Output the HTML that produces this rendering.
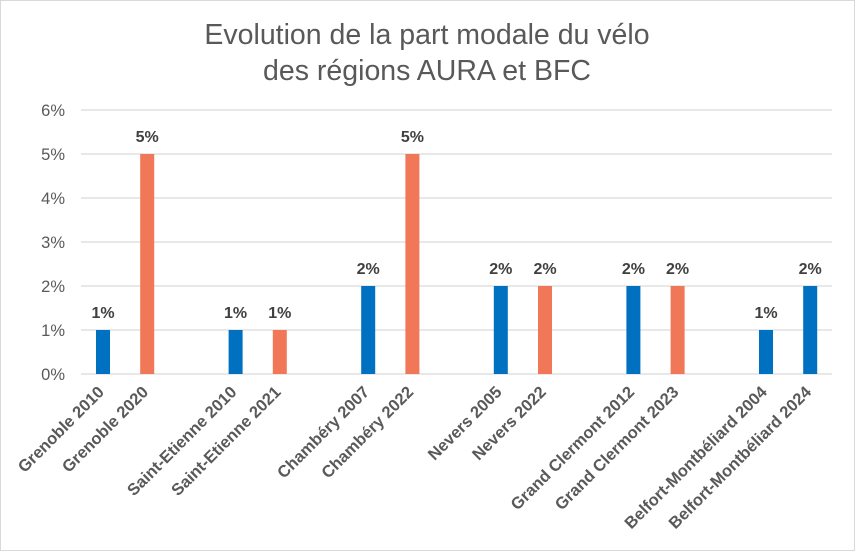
<!DOCTYPE html>
<html><head><meta charset="utf-8"><style>
body{margin:0;background:#fff}
svg{display:block;font-family:"Liberation Sans",sans-serif}
</style></head><body>
<svg width="855" height="551" viewBox="0 0 855 551">
<rect x="0.5" y="0.5" width="854" height="550" fill="#fff" stroke="#d9d9d9"/>
<text x="427" y="44" text-anchor="middle" font-size="28.5" fill="#595959">Evolution de la part modale du vélo</text>
<text x="427" y="80" text-anchor="middle" font-size="28.5" fill="#595959">des régions AURA et BFC</text>
<g stroke="#d9d9d9" stroke-width="1.3">
<line x1="81" x2="832" y1="110" y2="110"/><line x1="81" x2="832" y1="154" y2="154"/>
<line x1="81" x2="832" y1="198" y2="198"/><line x1="81" x2="832" y1="242" y2="242"/>
<line x1="81" x2="832" y1="286" y2="286"/><line x1="81" x2="832" y1="330" y2="330"/>
<line x1="81" x2="832" y1="374" y2="374"/>
</g>
<g font-size="16.5" fill="#595959" text-anchor="end">
<text x="65" y="116">6%</text><text x="65" y="160">5%</text><text x="65" y="204">4%</text>
<text x="65" y="248">3%</text><text x="65" y="292">2%</text><text x="65" y="336">1%</text><text x="65" y="380">0%</text>
</g>
<g id="bars"></g>
<g id="labels" font-size="16" font-weight="bold" fill="#404040" text-anchor="middle"></g>
<g id="cats" font-size="16.5" font-weight="bold" fill="#595959" text-anchor="end"></g>
</svg>
<script>
var d=[["Grenoble 2010",0,1,"b"],["Grenoble 2020",1,5,"o"],["Saint-Etienne 2010",3,1,"b"],["Saint-Etienne 2021",4,1,"o"],["Chambéry 2007",6,2,"b"],["Chambéry 2022",7,5,"o"],["Nevers 2005",9,2,"b"],["Nevers 2022",10,2,"o"],["Grand Clermont 2012",12,2,"b"],["Grand Clermont 2023",13,2,"o"],["Belfort-Montbéliard 2004",15,1,"b"],["Belfort-Montbéliard 2024",16,2,"b"]];
var ns="http://www.w3.org/2000/svg",b=document.getElementById("bars"),l=document.getElementById("labels"),c=document.getElementById("cats");
d.forEach(function(r){var cx=103+44.2*r[1],h=44*r[2];
var e=document.createElementNS(ns,"rect");e.setAttribute("x",cx-7);e.setAttribute("y",374-h);e.setAttribute("width",14);e.setAttribute("height",h);e.setAttribute("fill",r[3]=="b"?"#0070c0":"#f07858");b.appendChild(e);
var t=document.createElementNS(ns,"text");t.setAttribute("x",cx);t.setAttribute("y",374-h-12);t.textContent=r[2]+"%";l.appendChild(t);
var u=document.createElementNS(ns,"text");u.setAttribute("transform","translate("+(cx+2)+",393) rotate(-45)");u.textContent=r[0];c.appendChild(u);});
</script>
</body></html>
